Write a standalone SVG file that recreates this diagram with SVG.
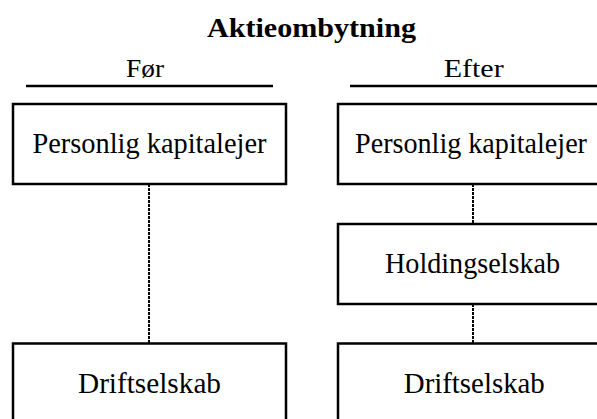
<svg xmlns="http://www.w3.org/2000/svg" width="597" height="419" viewBox="0 0 597 419">
<style>
.box{fill:#fff;stroke:#000;stroke-width:2.5}
.t{font-family:"Liberation Serif","Times New Roman",serif;font-size:30px;fill:#000;text-anchor:middle}
.s{font-family:"Liberation Serif","Times New Roman",serif;font-size:25px;fill:#000;text-anchor:middle}
.h{font-family:"Liberation Serif","Times New Roman",serif;font-size:28px;font-weight:bold;fill:#000;text-anchor:middle}
.rule{stroke:#000;stroke-width:2.5}
.conn{stroke:#000;stroke-width:2;stroke-dasharray:3 1;fill:none}
</style>
<rect width="597" height="419" fill="#fff"/>
<g id="header">
<text class="h" x="311.5" y="37" textLength="209" lengthAdjust="spacingAndGlyphs">Aktieombytning</text>
<text class="s" x="145" y="77" textLength="38" lengthAdjust="spacingAndGlyphs">Før</text>
<text class="s" x="473.7" y="77" textLength="60" lengthAdjust="spacingAndGlyphs">Efter</text>
<line class="rule" x1="26" y1="86" x2="273" y2="86"/>
<line class="rule" x1="350" y1="86" x2="597" y2="86"/>
</g>
<g id="connectors">
<line class="conn" x1="149" y1="184" x2="149" y2="343"/>
<line class="conn" x1="473" y1="184" x2="473" y2="224"/>
<line class="conn" x1="473" y1="304" x2="473" y2="343"/>
</g>
<g id="foer-kapitalejer">
<rect class="box" x="13" y="104" width="273" height="80"/>
<text class="t" x="149.5" y="153" textLength="234" lengthAdjust="spacingAndGlyphs">Personlig kapitalejer</text>
</g>
<g id="foer-drift">
<rect class="box" x="13" y="343.5" width="273" height="90"/>
<text class="t" x="149.5" y="393" textLength="143" lengthAdjust="spacingAndGlyphs">Driftselskab</text>
</g>
<g id="efter-kapitalejer">
<rect class="box" x="338" y="104" width="273" height="80"/>
<text class="t" x="471" y="153" textLength="232" lengthAdjust="spacingAndGlyphs">Personlig kapitalejer</text>
</g>
<g id="efter-holding">
<rect class="box" x="338" y="224" width="273" height="80"/>
<text class="t" x="472.5" y="273" textLength="175" lengthAdjust="spacingAndGlyphs">Holdingselskab</text>
</g>
<g id="efter-drift">
<rect class="box" x="338" y="343.5" width="273" height="90"/>
<text class="t" x="474.3" y="393" textLength="141" lengthAdjust="spacingAndGlyphs">Driftselskab</text>
</g>
</svg>
